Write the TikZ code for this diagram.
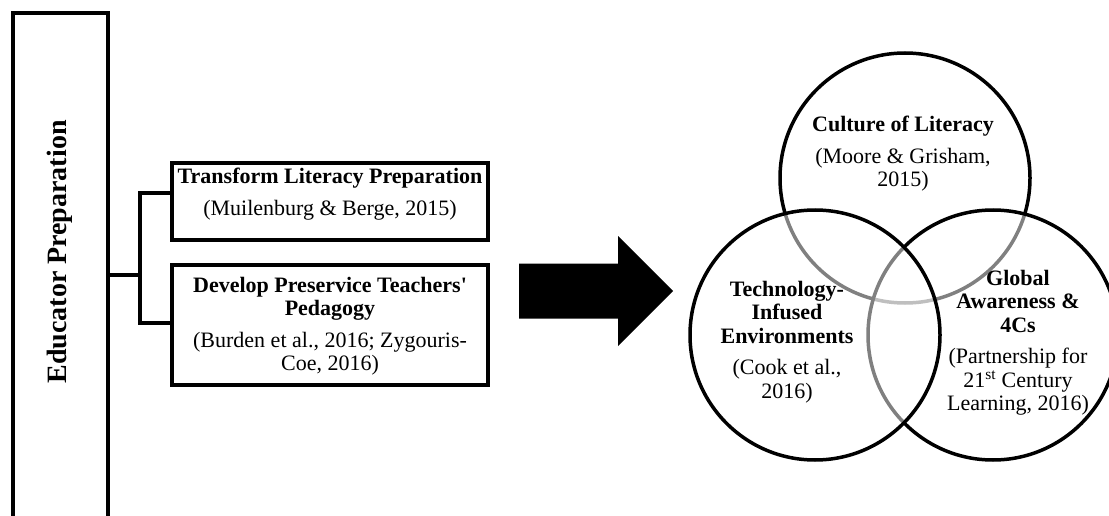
\documentclass[tikz,border=0pt]{standalone}
\usepackage{fontspec}
\setmainfont{Liberation Serif}
\begin{document}
\begin{tikzpicture}[x=1pt,y=-1pt,
  framebox/.style={draw, line width=4.5pt, inner sep=0pt},
  conn/.style={draw, line width=4pt},
  venn/.style={circle, draw, line width=3.5pt, fill=white, fill opacity=0.5, minimum size=250pt, inner sep=0pt},
  txt/.style={align=center, font=\fontsize{22}{23.5}\selectfont, inner sep=0pt}]
\clip (0,0) rectangle (1109,516);
% left frame
\node[framebox, line width=4pt, minimum width=95pt, minimum height=520pt] (edu) at (60.5,273) {};
\node[rotate=90, font=\fontsize{28}{30}\selectfont\bfseries, inner sep=0pt] (edutext) at (60,252) {Educator Preparation};
% boxes
\node[framebox, minimum width=316pt, minimum height=77pt] (b1) at (330,201.5) {};
\node[framebox, minimum width=316pt, minimum height=120pt] (b2) at (330,325) {};
\node[txt] (t1) at (330,194) {\textbf{Transform Literacy Preparation}\\[8pt](Muilenburg \& Berge, 2015)};
\node[txt] (t2) at (330,326) {\textbf{Develop Preservice Teachers\textquotesingle}\\\textbf{Pedagogy}\\[8pt](Burden et al., 2016; Zygouris-\\Coe, 2016)};
% connectors
\coordinate (j) at (140,275);
\draw[conn] (edu.east |- j) -- (j);
\draw[conn] ([yshift=8.5pt]b1.west) -| (j) |- ([yshift=2pt]b2.west);
% big arrow
\fill (519,263.5) -- (618,263.5) -- (618,236) -- (673,291) -- (618,346) -- (618,318.5) -- (519,318.5) -- cycle;
% venn circles
\node[venn] (cul) at (905,178) {};
\node[venn] (glo) at (993,335) {};
\node[venn] (tec) at (815,335) {};
% circle texts
\node[txt] (culT) at (903,154) {\textbf{Culture of Literacy}\\[8pt](Moore \& Grisham,\\2015)};
\node[txt] (tecT) at (787,342) {\textbf{Technology-}\\\textbf{Infused}\\\textbf{Environments}\\[8pt](Cook et al.,\\2016)};
\node[txt] (gloT) at (1018,342.5) {\textbf{Global}\\\textbf{Awareness \&}\\\textbf{4Cs}\\[8pt](Partnership for\\21\textsuperscript{st} Century\\Learning, 2016)};
\end{tikzpicture}
\end{document}
